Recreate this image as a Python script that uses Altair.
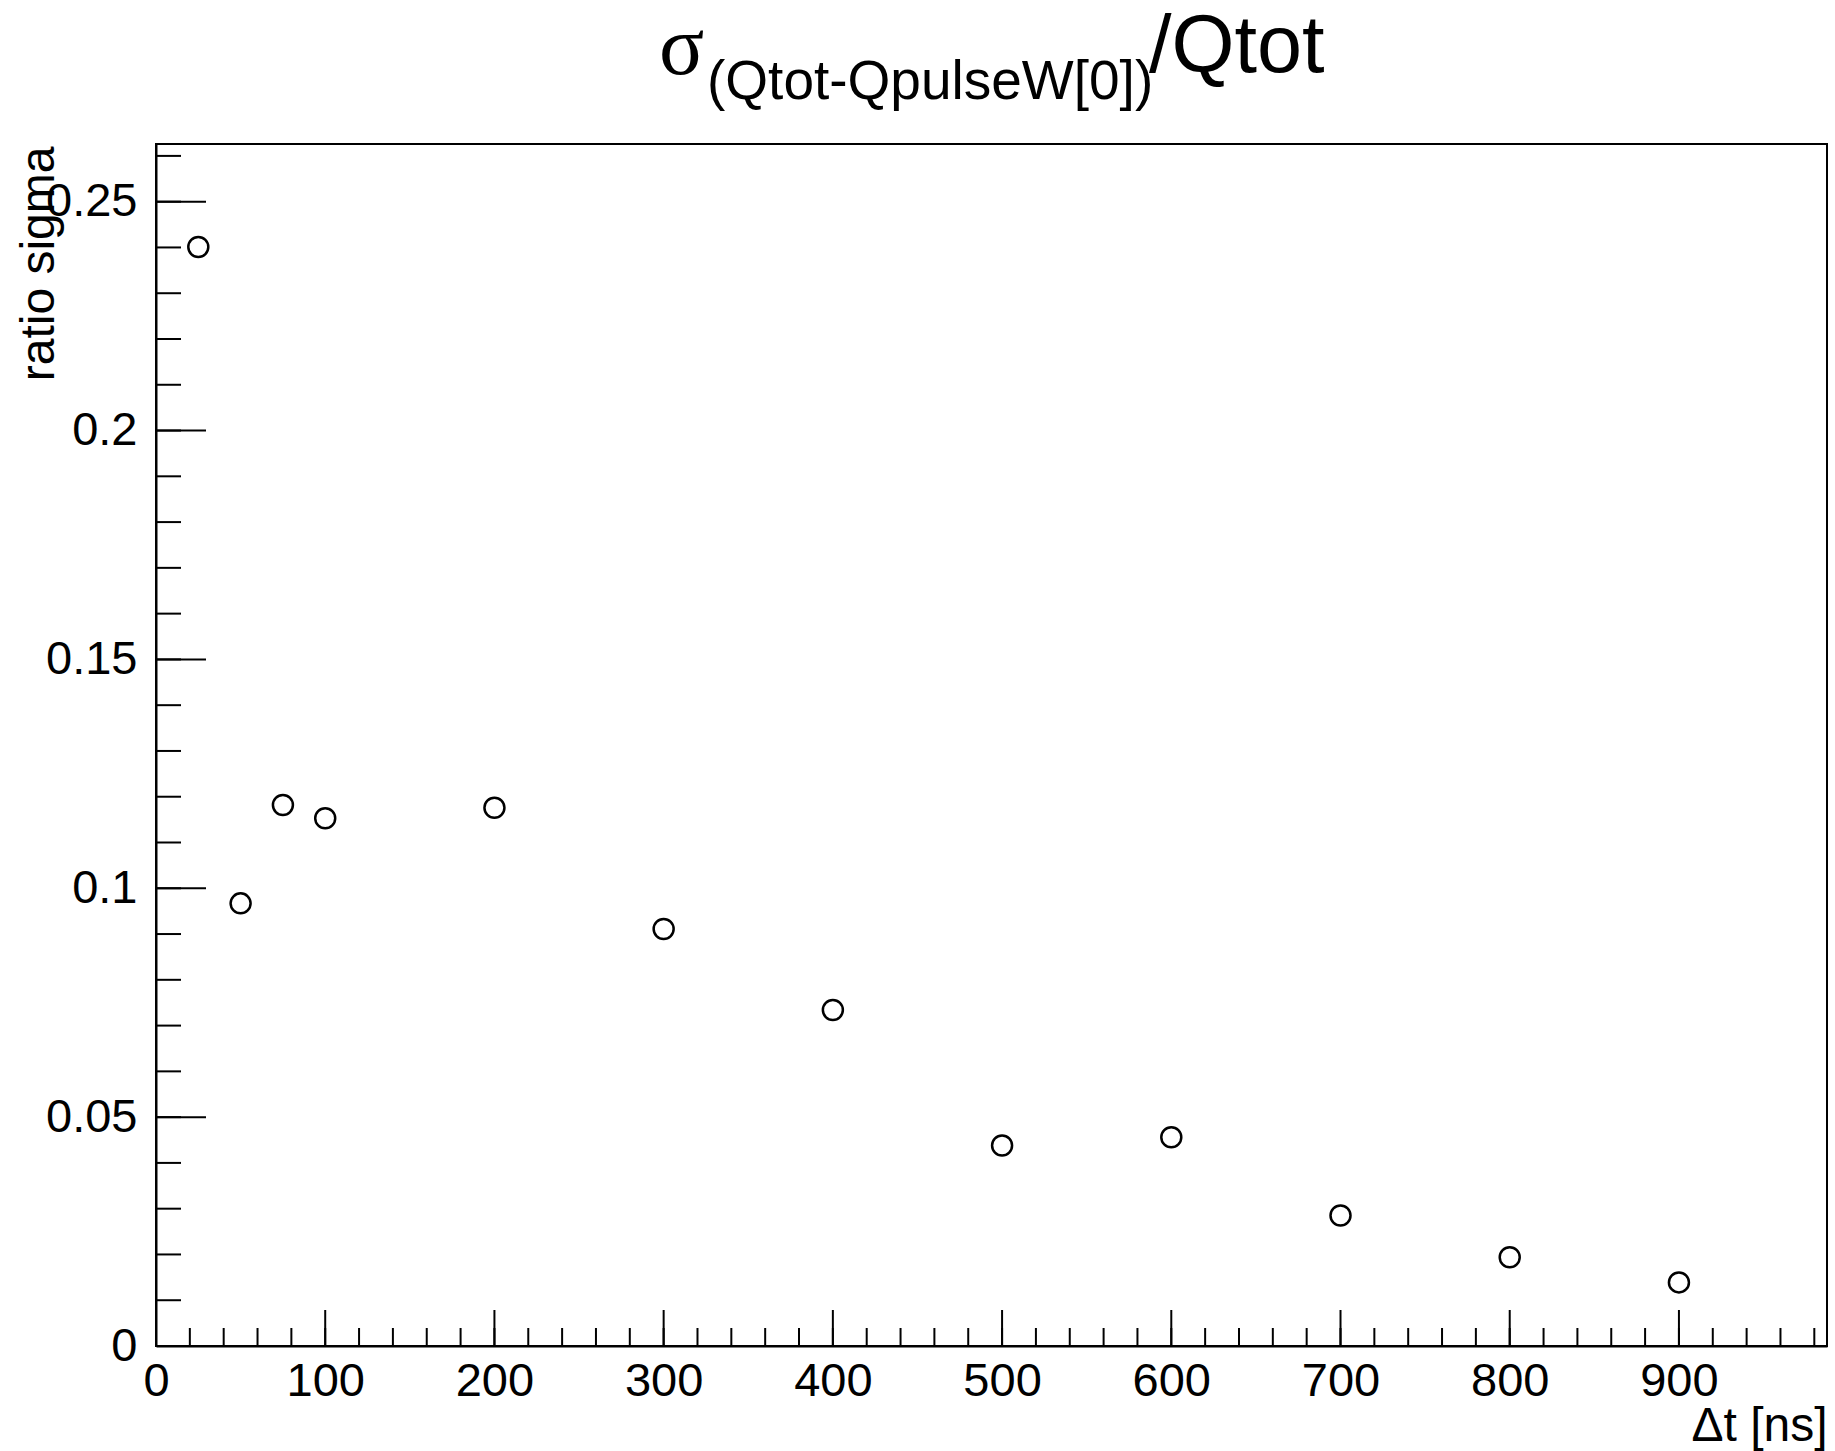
import altair as alt
import pandas as pd

# Measured ratio sigma versus delay
dt_ns = [25, 50, 75, 100, 200, 300, 400, 500, 600, 700, 800, 900]
ratio_sigma = [0.2401, 0.0967, 0.1182, 0.1153, 0.1176, 0.0911, 0.0734,
               0.0438, 0.0456, 0.0285, 0.0194, 0.0139]

# Axis ranges and tick marks
x_range = [0, 987.5]
y_range = [0, 0.2626]
x_major = [0, 100, 200, 300, 400, 500, 600, 700, 800, 900]
x_minor = [v for v in range(0, 1000, 20) if v <= x_range[1]]
y_major = [0, 0.05, 0.1, 0.15, 0.2, 0.25]
y_minor = [round(i * 0.01, 2) for i in range(0, 27)]

title_parts = ["σ", "(Qtot-QpulseW[0])", "/Qtot"]
x_title = "Δt [ns]"
y_title = "ratio sigma"

W, H = 1671, 1202
FONT = "Liberation Sans"

df = pd.DataFrame({"dt": dt_ns, "ratio": ratio_sigma})

xs = alt.Scale(domain=x_range, nice=False, zero=False)
ys = alt.Scale(domain=y_range, nice=False, zero=False)

points = alt.Chart(df).mark_point(
    shape="circle", filled=False, color="black", size=400, strokeWidth=2.5, opacity=1
).encode(
    x=alt.X("dt:Q", scale=xs, axis=alt.Axis(
        values=x_major, format="d", ticks=False, tickSize=0, domain=True,
        domainColor="black", domainWidth=2, grid=False,
        labelFont=FONT, labelFontSize=47, labelColor="black", labelPadding=12,
        labelFlush=False, labelOverlap=False,
        title=x_title, titleFont=FONT, titleFontSize=48, titleFontWeight="normal",
        titleColor="black", titleAlign="right", titleBaseline="alphabetic",
        titleX=W, titleY=94, titleAngle=0,
    )),
    y=alt.Y("ratio:Q", scale=ys, axis=alt.Axis(
        values=y_major, format="~g", ticks=False, tickSize=0, domain=True,
        domainColor="black", domainWidth=2, grid=False,
        labelFont=FONT, labelFontSize=47, labelColor="black", labelPadding=19,
        labelFlush=False, labelOverlap=False,
        title=y_title, titleFont=FONT, titleFontSize=48, titleFontWeight="normal",
        titleColor="black", titleAngle=270, titleAlign="right",
        titleBaseline="alphabetic", titleX=-103, titleY=2,
    )),
)

# Inward ticks along the left and bottom edges
def y_ticks(vals, length):
    return alt.Chart(pd.DataFrame({"v": vals})).mark_rule(
        color="black", strokeWidth=2
    ).encode(
        y=alt.Y("v:Q", scale=ys, axis=None),
        x=alt.value(0), x2=alt.value(length),
    )

def x_ticks(vals, length):
    return alt.Chart(pd.DataFrame({"v": vals})).mark_rule(
        color="black", strokeWidth=2
    ).encode(
        x=alt.X("v:Q", scale=xs, axis=None),
        y=alt.value(H), y2=alt.value(H - length),
    )

ticks = [
    y_ticks(y_minor, 25), y_ticks(y_major, 50),
    x_ticks(x_minor, 18), x_ticks(x_major, 36),
]

# Title built from pieces: symbol, subscript, remainder
def title_text(txt, x, y, size, font):
    return alt.Chart(pd.DataFrame({"t": [txt]})).mark_text(
        align="left", baseline="alphabetic", font=font, fontSize=size, color="black"
    ).encode(text="t:N", x=alt.value(x), y=alt.value(y))

titles = [
    title_text(title_parts[0], 503, -70, 84, "Liberation Serif"),
    title_text(title_parts[1], 551, -45, 55, FONT),
    title_text(title_parts[2], 993, -72, 81, FONT),
]

chart = alt.layer(points, *ticks, *titles).resolve_axis(
    x="independent", y="independent"
).properties(
    width=W, height=H,
    autosize=alt.AutoSizeParams(type="none"),
    padding={"left": 156, "top": 144, "right": 8, "bottom": 105},
    background="white",
).configure_view(
    stroke="black", strokeWidth=2
)

chart.save("out.html", embed_options={"renderer": "svg", "actions": False})
